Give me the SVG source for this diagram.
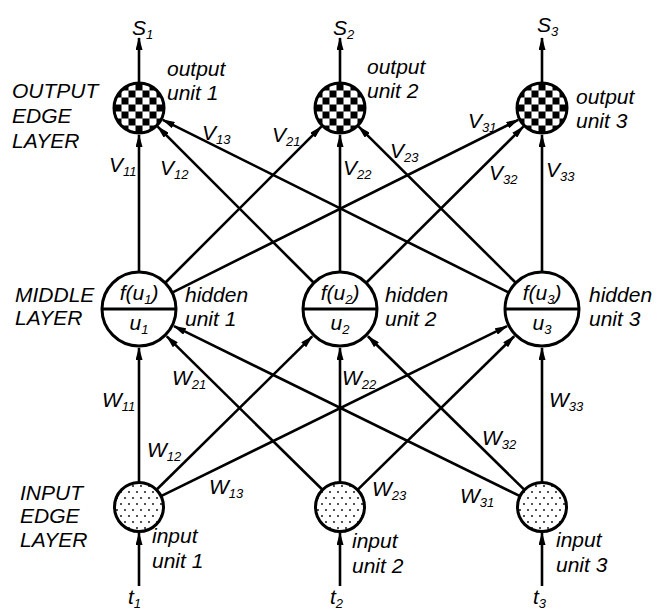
<svg xmlns="http://www.w3.org/2000/svg" width="656" height="610" viewBox="0 0 656 610">
<style>
.t{font-family:"Liberation Sans",Arial,sans-serif;font-style:italic;font-size:21px;fill:#000}
.s{font-size:13px}
.ln{stroke:#000;stroke-width:2.6;fill:none}
.ar{marker-end:url(#ah)}
.node{stroke:#000;stroke-width:3}
</style>
<defs>
<marker id="ah" viewBox="0 0 13 7" refX="12" refY="3.5" markerWidth="13" markerHeight="7" markerUnits="userSpaceOnUse" orient="auto">
<path d="M0,0 L13,3.5 L0,7 z" fill="#000"/>
</marker>
<pattern id="chk" x="-3.5" y="-3.5" width="14" height="14" patternUnits="userSpaceOnUse">
<rect width="14" height="14" fill="#fff"/>
<rect x="7" y="0" width="7" height="7" fill="#000"/>
<rect x="0" y="7" width="7" height="7" fill="#000"/>
</pattern>
<pattern id="dot" x="0" y="0" width="8" height="12" patternUnits="userSpaceOnUse">
<rect width="8" height="12" fill="#fff"/>
<circle cx="2" cy="3" r="0.9" fill="#000"/>
<circle cx="6" cy="9" r="0.9" fill="#000"/>
</pattern>
</defs>
<rect width="656" height="610" fill="#fff"/>

<g id="layer-labels" class="t">
<text x="12" y="98">OUTPUT</text>
<text x="12" y="123">EDGE</text>
<text x="12" y="148">LAYER</text>
<text x="15" y="302">MIDDLE</text>
<text x="15" y="325">LAYER</text>
<text x="20" y="500">INPUT</text>
<text x="20" y="523">EDGE</text>
<text x="20" y="547">LAYER</text>
</g>

<g id="connectors">
<line class="ln ar" x1="139" y1="83" x2="139" y2="38"/>
<line class="ln ar" x1="340" y1="83" x2="340" y2="38"/>
<line class="ln ar" x1="542" y1="83" x2="542" y2="38"/>
<line class="ln ar" x1="139" y1="271.5" x2="139" y2="135"/>
<line class="ln ar" x1="165.5" y1="282.5" x2="321.3" y2="126.7"/>
<line class="ln ar" x1="172.6" y1="292.3" x2="518.3" y2="119.8"/>
<line class="ln ar" x1="313.5" y1="282.5" x2="157.7" y2="126.7"/>
<line class="ln ar" x1="340" y1="271.5" x2="340" y2="135"/>
<line class="ln ar" x1="366.5" y1="282.5" x2="523.3" y2="126.7"/>
<line class="ln ar" x1="508.4" y1="292.3" x2="162.7" y2="119.8"/>
<line class="ln ar" x1="515.5" y1="282.5" x2="358.7" y2="126.7"/>
<line class="ln ar" x1="542" y1="271.5" x2="542" y2="135"/>
<line class="ln ar" x1="139" y1="482.5" x2="139" y2="348"/>
<line class="ln ar" x1="156.5" y1="489.8" x2="312.2" y2="336.4"/>
<line class="ln ar" x1="161" y1="496.2" x2="507" y2="326.2"/>
<line class="ln ar" x1="322.5" y1="489.8" x2="166.8" y2="336.4"/>
<line class="ln ar" x1="340" y1="482.5" x2="340" y2="348"/>
<line class="ln ar" x1="357.5" y1="489.9" x2="514.2" y2="336.3"/>
<line class="ln ar" x1="520" y1="496.2" x2="174" y2="326.2"/>
<line class="ln ar" x1="524.5" y1="489.9" x2="367.9" y2="336.3"/>
<line class="ln ar" x1="542" y1="482.5" x2="542" y2="348"/>
<line class="ln ar" x1="139" y1="586" x2="139" y2="533"/>
<line class="ln ar" x1="340" y1="586" x2="340" y2="533"/>
<line class="ln ar" x1="542" y1="586" x2="542" y2="533"/>
</g>

<g id="weight-labels" class="t">
<text x="109" y="172">V<tspan class="s" dy="4">11</tspan></text>
<text x="160" y="175">V<tspan class="s" dy="4">12</tspan></text>
<text x="202" y="140">V<tspan class="s" dy="4">13</tspan></text>
<text x="272" y="142">V<tspan class="s" dy="4">21</tspan></text>
<text x="343" y="175">V<tspan class="s" dy="4">22</tspan></text>
<text x="390" y="158">V<tspan class="s" dy="4">23</tspan></text>
<text x="468" y="128">V<tspan class="s" dy="4">31</tspan></text>
<text x="489" y="180">V<tspan class="s" dy="4">32</tspan></text>
<text x="546" y="177">V<tspan class="s" dy="4">33</tspan></text>
<text x="102" y="407">W<tspan class="s" dy="4">11</tspan></text>
<text x="172" y="385">W<tspan class="s" dy="4">21</tspan></text>
<text x="342" y="385">W<tspan class="s" dy="4">22</tspan></text>
<text x="147" y="457">W<tspan class="s" dy="4">12</tspan></text>
<text x="209" y="494">W<tspan class="s" dy="4">13</tspan></text>
<text x="372" y="496">W<tspan class="s" dy="4">23</tspan></text>
<text x="482" y="445">W<tspan class="s" dy="4">32</tspan></text>
<text x="460" y="503">W<tspan class="s" dy="4">31</tspan></text>
<text x="549" y="407">W<tspan class="s" dy="4">33</tspan></text>
<text x="132" y="35">S<tspan class="s" dy="4">1</tspan></text>
<text x="333" y="35">S<tspan class="s" dy="4">2</tspan></text>
<text x="537" y="32">S<tspan class="s" dy="4">3</tspan></text>
<text x="128" y="604">t<tspan class="s" dy="4">1</tspan></text>
<text x="330" y="604">t<tspan class="s" dy="4">2</tspan></text>
<text x="533" y="604">t<tspan class="s" dy="4">3</tspan></text>
</g>

<g id="output1">
<g transform="translate(139,108)"><circle class="node" r="25" fill="url(#chk)"/></g>
<text class="t" x="167" y="76">output</text><text class="t" x="167" y="100">unit 1</text>
</g>
<g id="output2">
<g transform="translate(340,108)"><circle class="node" r="25" fill="url(#chk)"/></g>
<text class="t" x="367" y="74">output</text><text class="t" x="367" y="98">unit 2</text>
</g>
<g id="output3">
<g transform="translate(542,108)"><circle class="node" r="25" fill="url(#chk)"/></g>
<text class="t" x="576" y="104">output</text><text class="t" x="576" y="128">unit 3</text>
</g>

<g id="hidden1">
<circle class="node" cx="139" cy="309" r="37" fill="#fff"/>
<line x1="102" y1="309" x2="176" y2="309" stroke="#000" stroke-width="3"/>
<text class="t" x="139" y="300" text-anchor="middle">f(u<tspan class="s" dy="4">1</tspan><tspan dy="-4">)</tspan></text>
<text class="t" x="139" y="330" text-anchor="middle">u<tspan class="s" dy="4">1</tspan></text>
<text class="t" x="185" y="302">hidden</text><text class="t" x="185" y="326">unit 1</text>
</g>
<g id="hidden2">
<circle class="node" cx="340" cy="309" r="37" fill="#fff"/>
<line x1="303" y1="309" x2="377" y2="309" stroke="#000" stroke-width="3"/>
<text class="t" x="340" y="300" text-anchor="middle">f(u<tspan class="s" dy="4">2</tspan><tspan dy="-4">)</tspan></text>
<text class="t" x="340" y="330" text-anchor="middle">u<tspan class="s" dy="4">2</tspan></text>
<text class="t" x="385" y="302">hidden</text><text class="t" x="385" y="326">unit 2</text>
</g>
<g id="hidden3">
<circle class="node" cx="542" cy="309" r="37" fill="#fff"/>
<line x1="505" y1="309" x2="579" y2="309" stroke="#000" stroke-width="3"/>
<text class="t" x="542" y="300" text-anchor="middle">f(u<tspan class="s" dy="4">3</tspan><tspan dy="-4">)</tspan></text>
<text class="t" x="542" y="330" text-anchor="middle">u<tspan class="s" dy="4">3</tspan></text>
<text class="t" x="589" y="302">hidden</text><text class="t" x="589" y="326">unit 3</text>
</g>

<g id="input1">
<g transform="translate(139,507)"><circle class="node" r="24.5" fill="url(#dot)"/></g>
<text class="t" x="152" y="543">input</text><text class="t" x="152" y="568">unit 1</text>
</g>
<g id="input2">
<g transform="translate(340,507)"><circle class="node" r="24.5" fill="url(#dot)"/></g>
<text class="t" x="352" y="548">input</text><text class="t" x="352" y="573">unit 2</text>
</g>
<g id="input3">
<g transform="translate(542,507)"><circle class="node" r="24.5" fill="url(#dot)"/></g>
<text class="t" x="556" y="547">input</text><text class="t" x="556" y="572">unit 3</text>
</g>
</svg>
